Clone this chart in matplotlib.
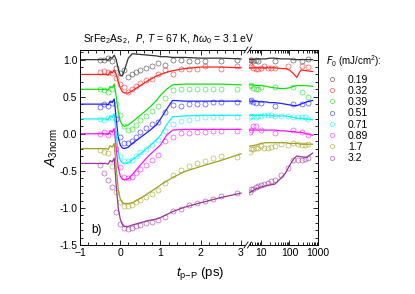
import numpy as np
import matplotlib
matplotlib.use("Agg")
from matplotlib import pyplot as plt
from matplotlib.ticker import MultipleLocator, LogLocator, NullFormatter
from matplotlib.lines import Line2D

plt.rcParams['font.family'] = ['Liberation Sans', 'DejaVu Sans']
plt.rcParams['mathtext.fontset'] = 'custom'
plt.rcParams['mathtext.rm'] = 'Liberation Sans'
plt.rcParams['mathtext.it'] = 'Liberation Sans:italic'
plt.rcParams['mathtext.cal'] = 'DejaVu Sans:italic'
plt.rcParams['font.size'] = 7.5

fluences = ["0.19", "0.32", "0.39", "0.51", "0.71", "0.89", "1.7", "3.2"]
colors = ["#333333", "#ff2020", "#10e010", "#2020ff", "#10f0f0", "#ff10ff", "#a0a020", "#993399"]

# --- lato sinistro (scala lineare, ps) ---
t_fit_l = [-1.0, -0.35, -0.3, -0.25, -0.2, -0.15, -0.1, -0.05, 0.0, 0.05, 0.1, 0.2, 0.3,
           0.5, 0.7, 0.9, 1.0, 1.15, 1.3, 1.6, 2.0, 2.5, 3.0]
fit_l = [
    [1.0, 1.0, 0.99, 1.03, 1.02, 1.06, 1.0, 0.88, 0.79, 0.78, 0.85, 1.02, 1.08, 1.07, 1.06, 1.05, 1.04, 1.04, 1.03, 1.03, 1.02, 1.02, 1.01],
    [0.8, 0.8, 0.79, 0.84, 0.82, 0.86, 0.8, 0.7, 0.62, 0.57, 0.55, 0.55, 0.58, 0.65, 0.72, 0.78, 0.8, 0.83, 0.85, 0.88, 0.90, 0.90, 0.89],
    [0.6, 0.6, 0.59, 0.64, 0.62, 0.67, 0.5, 0.3, 0.17, 0.12, 0.1, 0.12, 0.16, 0.25, 0.34, 0.45, 0.52, 0.6, 0.66, 0.67, 0.67, 0.67, 0.66],
    [0.4, 0.4, 0.39, 0.44, 0.42, 0.47, 0.2, -0.05, -0.15, -0.19, -0.2, -0.18, -0.13, -0.05, 0.03, 0.12, 0.2, 0.33, 0.45, 0.44, 0.44, 0.44, 0.44],
    [0.2, 0.2, 0.19, 0.24, 0.22, 0.27, 0.0, -0.25, -0.36, -0.39, -0.4, -0.39, -0.35, -0.27, -0.18, -0.08, -0.02, 0.12, 0.23, 0.24, 0.25, 0.25, 0.25],
    [0.0, 0.0, -0.01, 0.04, 0.02, 0.07, -0.2, -0.45, -0.57, -0.61, -0.62, -0.61, -0.55, -0.42, -0.3, -0.2, -0.15, -0.02, 0.05, 0.06, 0.06, 0.06, 0.06],
    [-0.2, -0.2, -0.21, -0.16, -0.18, -0.13, -0.45, -0.75, -0.88, -0.93, -0.94, -0.94, -0.93, -0.87, -0.8, -0.73, -0.69, -0.64, -0.59, -0.51, -0.44, -0.36, -0.27],
    [-0.4, -0.4, -0.41, -0.36, -0.38, -0.33, -0.7, -1.0, -1.15, -1.22, -1.25, -1.25, -1.23, -1.2, -1.17, -1.15, -1.13, -1.09, -1.05, -0.99, -0.93, -0.86, -0.80],
]

t_pts_l = [-0.5, -0.4, -0.3, -0.2, -0.1, 0.0, 0.1, 0.2, 0.3, 0.4, 0.5, 0.65, 0.8, 0.95,
           1.1, 1.3, 1.5, 1.7, 1.9, 2.1, 2.3, 2.5, 2.9]
nan = np.nan
pts_l = [
    [0.99, 1.0, 1.02, 0.98, 0.89, 0.82, 0.86, 0.77, 0.81, 0.84, 0.86, 0.89, 0.92, 0.95, 0.93, 0.99, 0.99, 0.98, 0.98, 0.98, nan, 0.98, 1.0],
    [0.83, 0.85, 0.83, 0.82, 0.75, 0.67, 0.63, 0.57, 0.6, 0.65, 0.69, 0.73, 0.74, 0.8, 0.86, 0.81, 0.88, 0.88, 0.88, 0.92, nan, 0.88, 0.91],
    [0.61, 0.59, 0.57, 0.6, 0.4, 0.26, 0.1, 0.05, 0.07, 0.12, 0.18, 0.24, 0.31, 0.38, 0.48, 0.59, 0.6, 0.6, 0.6, 0.6, 0.61, 0.61, 0.6],
    [0.36, 0.4, 0.37, 0.42, 0.2, -0.05, -0.12, -0.13, -0.1, -0.04, 0.02, 0.08, 0.13, 0.16, 0.3, 0.39, 0.37, 0.40, 0.40, 0.40, 0.43, 0.43, 0.43],
    [0.2, 0.18, 0.21, 0.22, 0.0, -0.3, -0.37, -0.37, -0.35, -0.3, -0.25, -0.2, -0.15, -0.08, 0.04, 0.13, 0.17, 0.19, 0.21, 0.22, 0.22, 0.22, 0.22],
    [0.0, 0.02, -0.02, 0.03, -0.2, -0.45, -0.58, -0.6, -0.58, -0.53, -0.47, -0.42, -0.36, -0.28, -0.1, -0.04, 0.01, 0.01, 0.02, 0.03, 0.04, 0.04, 0.04],
    [-0.22, -0.24, -0.26, -0.44, -0.78, -0.92, -0.97, -0.98, -0.96, -0.92, -0.89, -0.85, -0.81, -0.76, -0.67, -0.55, -0.49, -0.43, -0.40, -0.37, -0.33, -0.30, -0.31],
    [-0.42, -0.53, -0.62, -0.72, -1.05, -1.22, -1.27, -1.28, -1.27, -1.25, -1.23, -1.21, -1.19, -1.16, -1.12, -1.04, -1.02, -0.96, -0.93, -0.90, -0.88, -0.84, -0.80],
]

# --- lato destro (scala log, ps) ---
t_fit_r = [3.8, 5, 7, 10, 15, 20, 30, 50, 70, 100, 140, 180, 250, 400, 650]
fit_r = [
    [1.0, 1.0, 1.01, 1.01, 1.01, 1.02, 1.02, 1.01, 1.01, 1.01, 1.0, 1.0, 1.0, 1.0, 1.0],
    [0.89, 0.89, 0.89, 0.89, 0.89, 0.89, 0.89, 0.88, 0.88, 0.86, 0.81, 0.76, 0.86, 0.85, 0.84],
    [0.66, 0.66, 0.65, 0.65, 0.64, 0.63, 0.62, 0.61, 0.61, 0.62, 0.64, 0.65, 0.65, 0.65, 0.64],
    [0.44, 0.44, 0.44, 0.43, 0.43, 0.42, 0.42, 0.41, 0.40, 0.39, 0.38, 0.38, 0.40, 0.43, 0.45],
    [0.25, 0.25, 0.25, 0.25, 0.25, 0.25, 0.24, 0.24, 0.24, 0.23, 0.22, 0.21, 0.21, 0.20, 0.19],
    [0.05, 0.05, 0.05, 0.05, 0.05, 0.05, 0.05, 0.04, 0.04, 0.03, 0.03, 0.02, 0.02, 0.0, -0.02],
    [-0.17, -0.16, -0.15, -0.13, -0.12, -0.12, -0.12, -0.12, -0.12, -0.13, -0.13, -0.13, -0.14, -0.14, -0.14],
    [-0.80, -0.77, -0.74, -0.72, -0.70, -0.69, -0.68, -0.60, -0.54, -0.43, -0.34, -0.30, -0.31, -0.32, -0.26],
]

t_pts_r = [4, 4.6, 5.4, 6.5, 8, 10, 13, 17, 23, 32, 50, 90, 130, 200, 270, 350, 450]
pts_r = [
    [0.99, 1.0, 0.98, 1.0, 0.98, nan, nan, nan, nan, 0.98, nan, nan, 0.99, nan, 0.98, nan, 1.01],
    [0.95, 0.91, 0.89, 0.88, 0.88, 0.89, 0.91, 0.89, 0.89, 0.89, nan, 0.92, nan, nan, 0.92, nan, 0.90],
    [0.64, 0.66, 0.62, 0.60, 0.61, 0.63, nan, nan, nan, 0.63, nan, nan, 0.63, nan, 0.57, nan, 0.49],
    [0.44, 0.46, 0.43, 0.42, nan, 0.42, nan, nan, nan, 0.37, nan, nan, 0.40, nan, 0.40, nan, 0.42],
    [0.23, 0.24, 0.24, 0.23, 0.24, 0.24, 0.25, 0.25, 0.25, 0.24, 0.24, 0.24, 0.23, 0.23, 0.22, 0.22, 0.20],
    [0.02, 0.05, 0.10, 0.10, nan, 0.05, nan, nan, nan, 0.01, nan, nan, 0.05, nan, 0.03, nan, -0.01],
    [-0.24, -0.20, -0.21, -0.19, -0.19, -0.17, -0.19, -0.19, -0.18, -0.16, -0.14, -0.15, -0.12, -0.14, -0.15, -0.15, -0.14],
    [-0.79, -0.75, -0.74, -0.72, -0.71, -0.69, -0.68, -0.67, -0.64, -0.62, -0.55, -0.46, -0.35, -0.35, -0.35, -0.34, -0.33],
]

# --- figura ---
W, H = 415, 294
fig = plt.figure(figsize=(W / 100, H / 100), dpi=100)
axL = fig.add_axes([80 / W, (H - 245) / H, (245 - 80) / W, 195 / H])
axR = fig.add_axes([249 / W, (H - 245) / H, (318 - 249) / W, 195 / H], sharey=axL)

ms = 3.6
for i in range(len(fluences)):
    c = colors[i]
    axL.plot(t_fit_l, fit_l[i], color=c, lw=0.9)
    axL.plot(t_pts_l, pts_l[i], 'o', mfc='none', mec=c, ms=ms, mew=0.5, alpha=0.75)
    axR.plot(t_fit_r, fit_r[i], color=c, lw=0.9)
    axR.plot(t_pts_r, pts_r[i], 'o', mfc='none', mec=c, ms=ms, mew=0.5, alpha=0.75)

axL.set_xlim(-1, 3.1)
axL.set_ylim(-1.5, 1.13)
axL.xaxis.set_major_locator(MultipleLocator(1))
axL.xaxis.set_minor_locator(MultipleLocator(0.2))
axL.yaxis.set_major_locator(MultipleLocator(0.5))
axL.yaxis.set_minor_locator(MultipleLocator(0.1))
axL.yaxis.set_major_formatter(matplotlib.ticker.FormatStrFormatter('%.1f'))
axL.spines['right'].set_visible(False)
axL.tick_params(which='both', direction='in', top=True, right=False, labelsize=7.5, pad=2)
axL.tick_params(which='major', length=3.5, width=0.6)
axL.tick_params(which='minor', length=2, width=0.6)

axR.set_xscale('log')
axR.set_xlim(3.8, 1000)
axR.xaxis.set_major_locator(LogLocator(base=10, numticks=10))
axR.xaxis.set_minor_locator(LogLocator(base=10, subs=np.arange(2, 10), numticks=10))
axR.xaxis.set_minor_formatter(NullFormatter())
axR.xaxis.set_major_formatter(matplotlib.ticker.FuncFormatter(lambda v, p: f"{v:g}"))
axR.spines['left'].set_visible(False)
axR.tick_params(which='both', direction='in', top=True, right=True, left=False,
                labelleft=False, labelsize=7.5, pad=2)
axR.tick_params(which='major', length=3.5, width=0.6)
axR.tick_params(which='minor', length=2, width=0.6)
for a in (axL, axR):
    for s in a.spines.values():
        s.set_linewidth(0.7)

# segni di interruzione dell'asse
for yb in (50, 245):
    for dx in (0, 3.5):
        x0 = 244 + dx
        fig.add_artist(Line2D([x0 / W, (x0 + 4) / W], [(H - yb - 3) / H, (H - yb + 3) / H],
                              color='black', lw=0.6))

fig.text(83 / W, (H - 42) / H,
         r"SrFe$_2$As$_2$,  $\mathcal{P}$, $T$ = 67 K, $\hbar\omega_0$ = 3.1 eV",
         fontsize=7.5, va='baseline')
fig.text(52 / W, (H - 148) / H, r"$A_{\rm 3norm}$", rotation=90, fontsize=10,
         ha='center', va='center')
fig.text(200 / W, (H - 273) / H, r"$t_{\rm p\mathrm{-}P}$ (ps)", fontsize=9.5,
         ha='center', va='center')
axL.text(0.07, 0.06, "b)", transform=axL.transAxes, fontsize=8.5)

handles = [Line2D([], [], ls='none', marker='o', mfc='none', mec=c, ms=3, mew=0.5, alpha=0.75)
           for c in colors]
leg = fig.legend(handles, fluences, loc='upper left', bbox_to_anchor=(322 / W, (H - 49) / H),
                 frameon=False, fontsize=7.5, title=r"$\mathcal{F}_0$ (mJ/cm$^2$):",
                 title_fontsize=7, handlelength=1.2, handletextpad=0.9,
                 labelspacing=0.12, borderaxespad=0)
leg._legend_box.align = "left"
leg._legend_box.sep = 4

fig.savefig("out.png", dpi=100)
